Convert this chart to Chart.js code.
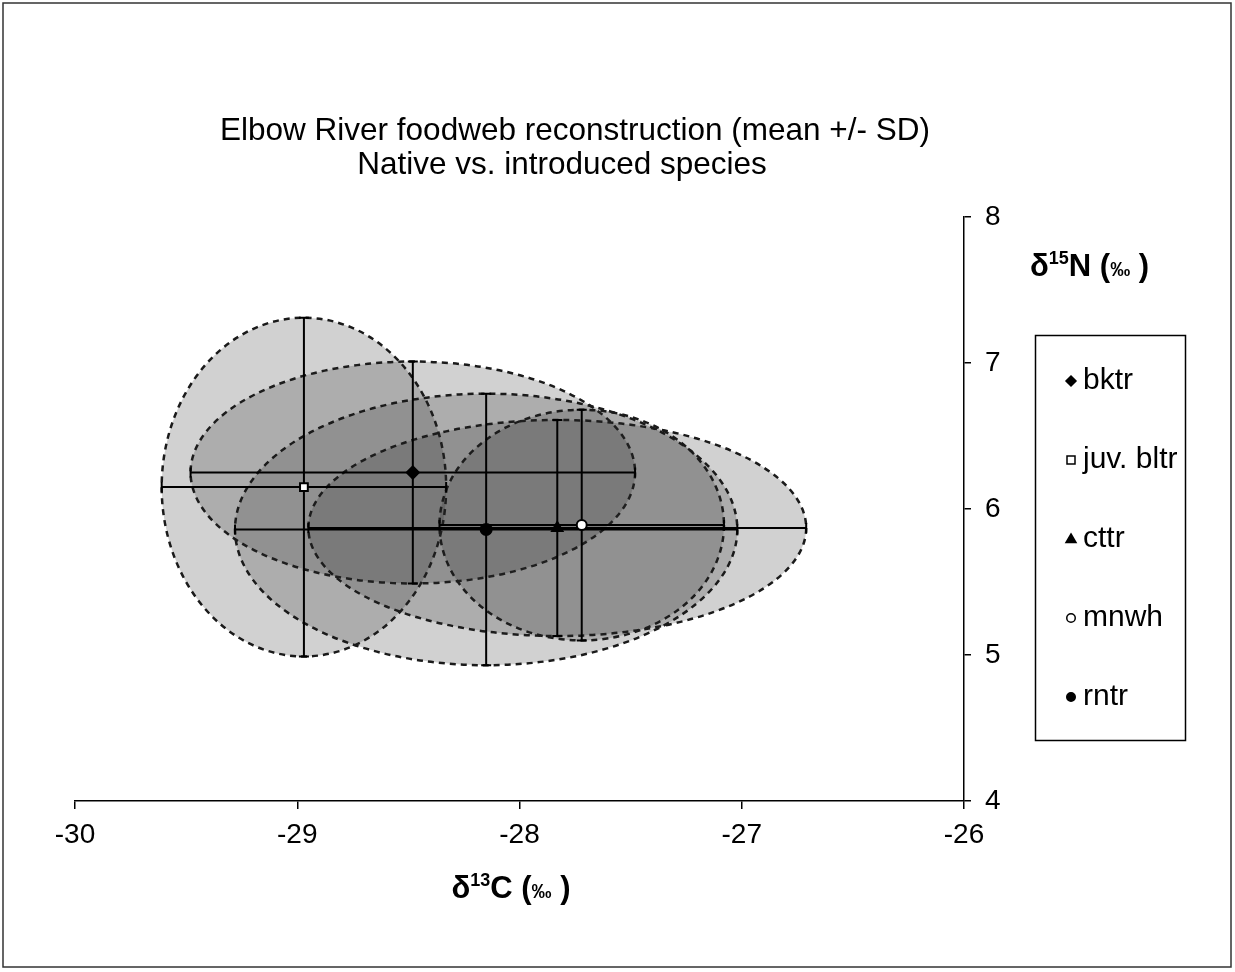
<!DOCTYPE html>
<html>
<head>
<meta charset="utf-8">
<script src="https://cdn.jsdelivr.net/npm/chart.js@4/dist/chart.umd.min.js"></script>
<style>
  html, body { margin: 0; padding: 0; background: #fff; }
  #wrap { width: 1235px; height: 972px; }
</style>
</head>
<body>
<div id="wrap"><canvas id="c" width="1235" height="972"></canvas></div>
<script>
// ---- data ----
const species = ['bktr', 'juv. bltr', 'cttr', 'mnwh', 'rntr'];
const meanC = [-28.48, -28.97, -27.83, -27.72, -28.15];   // δ13C mean
const meanN = [6.25, 6.15, 5.87, 5.89, 5.86];             // δ15N mean
const sdC   = [1.00, 0.64, 1.12, 0.64, 1.13];             // δ13C SD
const sdN   = [0.76, 1.16, 0.74, 0.79, 0.93];             // δ15N SD
const xTicks = [-30, -29, -28, -27, -26];
const yTicks = [4, 5, 6, 7, 8];
const titleLines = ['Elbow River foodweb reconstruction (mean +/- SD)', 'Native vs. introduced species'];

// ---- styles ----
const markerStyle = ['rectRot', 'rect', 'triangle', 'circle', 'circle'];
const markerFill  = ['#000', '#fff', '#000', '#fff', '#000'];
const markerSize  = [6, 5.5, 6, 5, 5.5];
const FONT = '"Liberation Sans", Arial, sans-serif';

const datasets = species.map((s, i) => ({
  label: s,
  data: [{ x: meanC[i], y: meanN[i] }],
  pointStyle: markerStyle[i],
  backgroundColor: markerFill[i],
  borderColor: '#000',
  borderWidth: 2,
  pointRadius: markerSize[i],
}));

function drawMarker(ctx, style, fill, r, x, y) {
  ctx.save();
  ctx.fillStyle = fill; ctx.strokeStyle = '#000'; ctx.lineWidth = 1.5;
  ctx.beginPath();
  if (style === 'rectRot') {
    ctx.moveTo(x, y - r); ctx.lineTo(x + r, y); ctx.lineTo(x, y + r); ctx.lineTo(x - r, y); ctx.closePath();
  } else if (style === 'rect') {
    ctx.rect(x - r * 0.8, y - r * 0.8, r * 1.6, r * 1.6);
  } else if (style === 'triangle') {
    ctx.moveTo(x, y - r); ctx.lineTo(x + r, y + r * 0.7); ctx.lineTo(x - r, y + r * 0.7); ctx.closePath();
  } else {
    ctx.arc(x, y, r * 0.85, 0, Math.PI * 2);
  }
  ctx.fill(); ctx.stroke();
  ctx.restore();
}

// ellipses (mean ± SD) and error bars, drawn through the chart's scales
const ellipsePlugin = {
  id: 'ellipses',
  beforeDatasetsDraw(chart) {
    const { ctx, scales: { x, y } } = chart;
    ctx.save();
    species.forEach((s, i) => {
      const cx = x.getPixelForValue(meanC[i]);
      const cy = y.getPixelForValue(meanN[i]);
      const rx = Math.abs(x.getPixelForValue(meanC[i] + sdC[i]) - cx);
      const ry = Math.abs(y.getPixelForValue(meanN[i] + sdN[i]) - cy);
      ctx.beginPath();
      ctx.ellipse(cx, cy, rx, ry, 0, 0, Math.PI * 2);
      ctx.fillStyle = 'rgba(40,40,40,0.21)';
      ctx.fill();
      ctx.setLineDash([6, 5]);
      ctx.lineWidth = 2.5;
      ctx.strokeStyle = '#1a1a1a';
      ctx.stroke();
    });
    ctx.setLineDash([]);
    ctx.strokeStyle = '#000';
    ctx.lineWidth = 2;
    const cap = 5;
    species.forEach((s, i) => {
      const cx = x.getPixelForValue(meanC[i]);
      const cy = y.getPixelForValue(meanN[i]);
      const x0 = x.getPixelForValue(meanC[i] - sdC[i]);
      const x1 = x.getPixelForValue(meanC[i] + sdC[i]);
      const y0 = y.getPixelForValue(meanN[i] - sdN[i]);
      const y1 = y.getPixelForValue(meanN[i] + sdN[i]);
      ctx.beginPath();
      ctx.moveTo(x0, cy); ctx.lineTo(x1, cy);
      ctx.moveTo(x0, cy - cap); ctx.lineTo(x0, cy + cap);
      ctx.moveTo(x1, cy - cap); ctx.lineTo(x1, cy + cap);
      ctx.moveTo(cx, y0); ctx.lineTo(cx, y1);
      ctx.moveTo(cx - cap, y0); ctx.lineTo(cx + cap, y0);
      ctx.moveTo(cx - cap, y1); ctx.lineTo(cx + cap, y1);
      ctx.stroke();
    });
    ctx.restore();
  }
};

function drawSupText(ctx, parts, x, y, align) {
  let total = 0;
  parts.forEach(p => { ctx.font = (p.bold ? 'bold ' : '') + p.size + 'px ' + FONT; p.w = ctx.measureText(p.t).width; total += p.w; });
  let cx = align === 'left' ? x : x - total / 2;
  parts.forEach(p => {
    ctx.font = (p.bold ? 'bold ' : '') + p.size + 'px ' + FONT;
    ctx.fillText(p.t, cx, y + (p.dy || 0));
    cx += p.w;
  });
}

const decorPlugin = {
  id: 'decor',
  afterDraw(chart) {
    const { ctx } = chart;
    ctx.save();
    // outer frame
    ctx.strokeStyle = '#333'; ctx.lineWidth = 1.5;
    ctx.strokeRect(3, 3, 1228, 964);
    ctx.fillStyle = '#000';
    ctx.textBaseline = 'alphabetic';
    // title
    ctx.textAlign = 'center';
    ctx.font = '31.5px ' + FONT;
    ctx.fillText(titleLines[0], 575, 140);
    ctx.fillText(titleLines[1], 562, 174);
    ctx.textAlign = 'left';
    // x axis title
    drawSupText(ctx, [
      { t: 'δ', size: 31, bold: true },
      { t: '13', size: 18, bold: true, dy: -12 },
      { t: 'C (', size: 31, bold: true },
      { t: '‰', size: 20, bold: true },
      { t: ' )', size: 31, bold: true },
    ], 511, 898, 'center');
    // y axis title
    drawSupText(ctx, [
      { t: 'δ', size: 31, bold: true },
      { t: '15', size: 18, bold: true, dy: -12 },
      { t: 'N (', size: 31, bold: true },
      { t: '‰', size: 20, bold: true },
      { t: ' )', size: 31, bold: true },
    ], 1030, 276, 'left');
    // legend
    ctx.strokeStyle = '#000'; ctx.lineWidth = 1.5;
    ctx.strokeRect(1035.5, 335.5, 150, 405);
    ctx.font = '30px ' + FONT;
    ctx.textBaseline = 'middle';
    species.forEach((s, i) => {
      const yy = 381 + i * 79;
      drawMarker(ctx, markerStyle[i], markerFill[i], 5, 1071, yy);
      ctx.fillStyle = '#000';
      ctx.fillText(s, 1083, yy);
    });
    ctx.restore();
  }
};

new Chart(document.getElementById('c'), {
  type: 'scatter',
  data: { datasets },
  options: {
    responsive: false,
    animation: false,
    layout: { padding: { left: 75, right: 211, top: 217, bottom: 91 } },
    plugins: { legend: { display: false }, title: { display: false }, tooltip: { enabled: false } },
    scales: {
      x: {
        type: 'linear', position: 'bottom', min: -30, max: -26,
        afterBuildTicks: (s) => { s.ticks = xTicks.map(v => ({ value: v })); },
        afterFit: (s) => { s.height = 80; },
        grid: { display: true, drawOnChartArea: false, drawTicks: true, tickLength: 8, color: '#000', lineWidth: 1.5 },
        border: { display: true, color: '#000', width: 1.5 },
        ticks: { color: '#000', font: { family: FONT, size: 28 }, padding: 9 },
      },
      y: {
        type: 'linear', position: 'right', min: 4, max: 8,
        afterBuildTicks: (s) => { s.ticks = yTicks.map(v => ({ value: v })); },
        afterFit: (s) => { s.width = 60; },
        grid: { display: true, drawOnChartArea: false, drawTicks: true, tickLength: 7, color: '#000', lineWidth: 1.5 },
        border: { display: true, color: '#000', width: 1.5 },
        ticks: { color: '#000', font: { family: FONT, size: 28 }, padding: 14 },
      }
    }
  },
  plugins: [ellipsePlugin, decorPlugin]
});
</script>
</body>
</html>
